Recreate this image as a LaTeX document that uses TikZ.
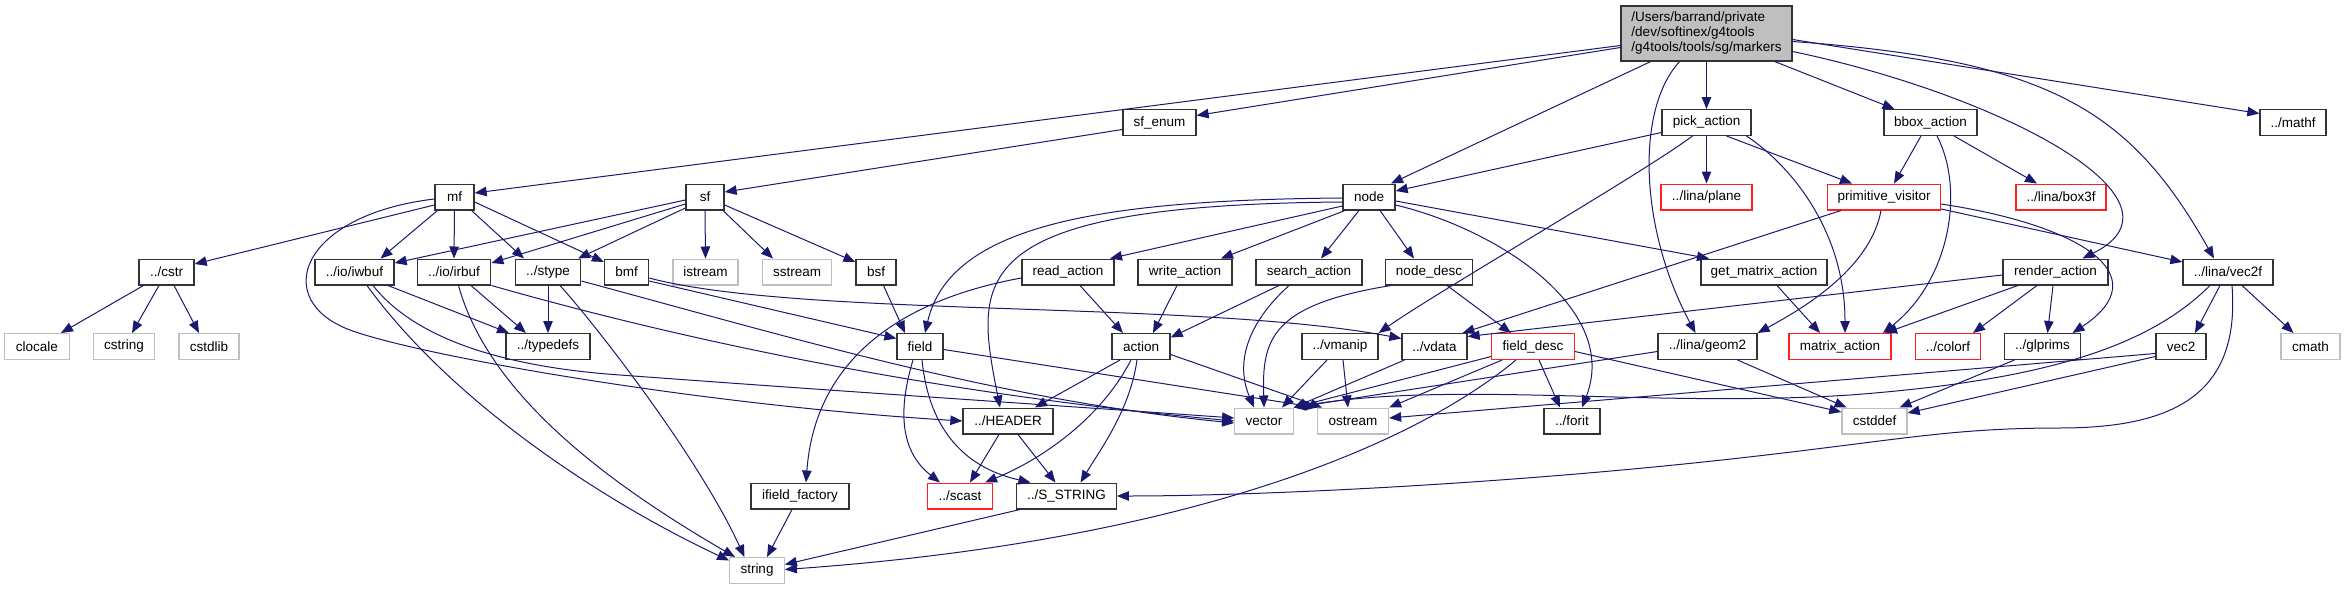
\documentclass[tikz,border=0pt]{standalone}
\usepackage{fontspec}
\setmainfont{Liberation Sans}
\usetikzlibrary{arrows.meta,calc}
\definecolor{edgec}{HTML}{191970}
\definecolor{sysgray}{HTML}{BFBFBF}
\definecolor{boxline}{HTML}{333333}
\definecolor{redline}{HTML}{FF2020}
\begin{document}
\begin{tikzpicture}[x=1pt,y=-1pt,
  font=\fontsize{13.5}{15}\selectfont,
  box/.style={draw=boxline, line width=1.3pt, minimum height=25.7pt, inner sep=0pt, anchor=center},
  sysbox/.style={box, draw=sysgray},
  redbox/.style={box, draw=redline},
  edge/.style={draw=edgec, line width=1pt, -{Triangle[length=12pt,width=9.5pt]}}
]
\useasboundingbox (0,0) rectangle (2345,589);

% ---------- nodes ----------
\node[box, fill=sysgray, minimum width=171pt, minimum height=55pt, align=left] (main) at (1706.5,33.5)
  {/Users/barrand/private\\/dev/softinex/g4tools\\/g4tools/tools/sg/markers};
% row 1
\node[box, minimum width=73pt] (sfenum) at (1159.5,122.5) {sf\_enum};
\node[box, minimum width=89pt] (pick) at (1706.5,122.5) {pick\_action};
\node[box, minimum width=93pt] (bbox) at (1930.5,122.5) {bbox\_action};
\node[box, minimum width=66pt] (mathf) at (2293,122.5) {../mathf};
% row 2
\node[box, minimum width=39pt] (mf) at (454.5,197) {mf};
\node[box, minimum width=38pt] (sf) at (705,197) {sf};
\node[box, minimum width=52pt] (nodeh) at (1369,197) {node};
\node[redbox, minimum width=91pt] (plane) at (1706.5,197) {../lina/plane};
\node[redbox, minimum width=113pt] (pv) at (1884,197) {primitive\_visitor};
\node[redbox, minimum width=90pt] (box3f) at (2061,197) {../lina/box3f};
% row 3
\node[box, minimum width=55pt] (cstr) at (166.5,272) {../cstr};
\node[box, minimum width=79pt] (iwbuf) at (354.5,272) {../io/iwbuf};
\node[box, minimum width=73.5pt] (irbuf) at (454,272) {../io/irbuf};
\node[box, minimum width=65.5pt] (stype) at (548,272) {../stype};
\node[box, minimum width=44pt] (bmf) at (626.5,272) {bmf};
\node[sysbox, minimum width=65pt] (istream) at (705.5,272) {istream};
\node[sysbox, minimum width=69.5pt] (sstream) at (797,272) {sstream};
\node[box, minimum width=40pt] (bsf) at (876,272) {bsf};
\node[box, minimum width=92pt] (readact) at (1068,272) {read\_action};
\node[box, minimum width=94pt] (writeact) at (1185,272) {write\_action};
\node[box, minimum width=106pt] (searchact) at (1309,272) {search\_action};
\node[box, minimum width=86.5pt] (nodedesc) at (1429,272) {node\_desc};
\node[box, minimum width=126pt] (gma) at (1764,272) {get\_matrix\_action};
\node[box, minimum width=105pt] (render) at (2055.5,272) {render\_action};
\node[box, minimum width=90pt] (vec2f) at (2228,272) {../lina/vec2f};
% row 4
\node[sysbox, minimum width=65pt] (clocale) at (37,346.5) {clocale};
\node[sysbox, minimum width=61.5pt] (cstring) at (124,346.5) {cstring};
\node[sysbox, minimum width=60pt] (cstdlib) at (209,346.5) {cstdlib};
\node[box, minimum width=84pt] (typedefs) at (548,346.5) {../typedefs};
\node[box, minimum width=46pt] (field) at (920,346.5) {field};
\node[box, minimum width=58pt] (action) at (1141,346.5) {action};
\node[box, minimum width=76pt] (vmanip) at (1340,346.5) {../vmanip};
\node[box, minimum width=65pt] (vdata) at (1434.5,346.5) {../vdata};
\node[redbox, minimum width=82.5pt] (fielddesc) at (1533,346.5) {field\_desc};
\node[box, minimum width=99pt] (geom2) at (1707.5,346.5) {../lina/geom2};
\node[redbox, minimum width=102pt] (matrix) at (1840,346.5) {matrix\_action};
\node[redbox, minimum width=65.5pt] (colorf) at (1948,346.5) {../colorf};
\node[box, minimum width=75.5pt] (glprims) at (2042.5,346.5) {../glprims};
\node[box, minimum width=50pt] (vec2) at (2181,346.5) {vec2};
\node[sysbox, minimum width=59pt] (cmath) at (2310.5,346.5) {cmath};
% row 5
\node[box, minimum width=90pt] (header) at (1008,421) {../HEADER};
\node[sysbox, minimum width=58.5pt] (vector) at (1264,421) {vector};
\node[sysbox, minimum width=71pt] (ostream) at (1353,421) {ostream};
\node[box, minimum width=56pt] (forit) at (1572,421) {../forit};
\node[sysbox, minimum width=65pt] (cstddef) at (1874.5,421) {cstddef};
% row 6
\node[box, minimum width=98pt] (ifield) at (800,496) {ifield\_factory};
\node[redbox, minimum width=64.5pt] (scast) at (960,496) {../scast};
\node[box, minimum width=99.5pt] (sstring) at (1066.5,496) {../S\_STRING};
% row 7
\node[sysbox, minimum width=54.5pt] (string) at (757,570.5) {string};

% ---------- edges ----------
% main
\draw[edge] ($(main.west)+(0,12)$) -- ($(mf.east)+(0,-4)$);
\draw[edge] ($(main.west)+(0,14)$) -- ($(sfenum.east)+(0,-7)$);
\draw[edge] ($(main.south)+(-56,0)$) -- ($(nodeh.north)+(22,0)$);
\draw[edge] (main.south) -- (pick.north);
\draw[edge] ($(main.south)+(-27,0)$) .. controls (1635,110) and (1640,230) .. ($(geom2.north)+(-12,0)$);
\draw[edge] ($(main.south)+(68.5,0)$) -- ($(bbox.north)+(-36,0)$);
\draw[edge] ($(main.east)+(0,18)$) .. controls (2000,95) and (2200,200) .. ($(render.north)+(27,0)$);
\draw[edge] ($(main.east)+(0,8)$) .. controls (2050,60) and (2130,110) .. ($(vec2f.north)+(-14,0)$);
\draw[edge] ($(main.east)+(0,6)$) -- ($(mathf.west)+(0,-9)$);
% sf_enum
\draw[edge] ($(sfenum.west)+(0,7)$) -- ($(sf.east)+(0,-5)$);
% pick_action
\draw[edge] ($(pick.west)+(0,10)$) -- ($(nodeh.east)+(0,-6)$);
\draw[edge] (pick.south) -- (plane.north);
\draw[edge] ($(pick.south)+(20,0)$) -- ($(pv.north)+(-32,0)$);
\draw[edge] ($(pick.south)+(40,0)$) .. controls (1790,165) and (1845,230) .. ($(matrix.north)+(5,0)$);
\draw[edge] ($(pick.south)+(-14,0)$) .. controls (1640,175) and (1440,290) .. (vmanip.north east);
% bbox_action
\draw[edge] ($(bbox.south)+(-9.5,0)$) -- ($(pv.north)+(10,0)$);
\draw[edge] ($(bbox.south)+(23.5,0)$) -- ($(box3f.north)+(-24,0)$);
\draw[edge] ($(bbox.south)+(6.5,0)$) .. controls (1965,190) and (1950,280) .. ($(matrix.north)+(43,0)$);
% primitive_visitor
\draw[edge] ($(pv.south)+(-43,0)$) -- ($(vdata.north)+(28,0)$);
\draw[edge] ($(pv.south)+(-3,0)$) .. controls (1870,270) and (1800,310) .. (geom2.north east);
\draw[edge] ($(pv.east)+(0,7)$) .. controls (2080,225) and (2160,275) .. ($(glprims.north)+(30,0)$);
\draw[edge] ($(pv.east)+(0,12)$) -- ($(vec2f.west)+(0,-10)$);
% render_action
\draw[edge] ($(render.west)+(0,3)$) -- ($(vdata.east)+(0,-10)$);
\draw[edge] ($(render.south)+(-37.5,0)$) -- ($(matrix.north)+(45,0)$);
\draw[edge] ($(render.south)+(-18.5,0)$) -- ($(colorf.north)+(25,0)$);
\draw[edge] ($(render.south)+(-2.5,0)$) -- ($(glprims.north)+(5,0)$);
% vec2f
\draw[edge] ($(vec2f.south)+(-8,0)$) -- ($(vec2.north)+(14,0)$);
\draw[edge] ($(vec2f.south)+(14,0)$) -- ($(cmath.north)+(-17,0)$);
\draw[edge] ($(vec2f.south)+(-18,0)$) .. controls (2150,345) and (2050,380) .. (1850,395)
  .. controls (1650,408) and (1450,380) .. (vector.north east);
\draw[edge] ($(vec2f.south)+(4,0)$) .. controls (2240,390) and (2180,428) .. (2060,428)
  .. controls (1950,428) and (1900,440) .. (1740,458)
  .. controls (1500,485) and (1250,496) .. (sstring.east);
% vec2
\draw[edge] ($(vec2.west)+(0,7)$) -- ($(ostream.east)+(0,-3)$);
\draw[edge] ($(vec2.west)+(0,10)$) -- ($(cstddef.east)+(0,-8)$);
% glprims
\draw[edge] ($(glprims.south)+(-28,0)$) -- ($(cstddef.north)+(25,0)$);
% geom2
\draw[edge] ($(geom2.south)+(30,0)$) -- ($(cstddef.north)+(-28,0)$);
\draw[edge] ($(geom2.west)+(0,5)$) -- (vector.north east);
% field_desc
\draw[edge] ($(fielddesc.west)+(0,10)$) -- (vector.north east);
\draw[edge] ($(fielddesc.south)+(-31,0)$) -- (ostream.north east);
\draw[edge] ($(fielddesc.south)+(6,0)$) -- ($(forit.north)+(-12,0)$);
\draw[edge] ($(fielddesc.south)+(-17,0)$) .. controls (1420,440) and (1200,540) .. ($(string.east)+(0,-1)$);
\draw[edge] ($(fielddesc.east)+(0,5)$) -- ($(cstddef.west)+(0,-9)$);
% node
\draw[edge] ($(nodeh.west)+(0,1)$) .. controls (1100,200) and (950,225) .. ($(field.north)+(5,0)$);
\draw[edge] ($(nodeh.west)+(0,5)$) .. controls (960,205) and (975,280) .. ($(header.north)+(-8,0)$);
\draw[edge] ($(nodeh.west)+(0,9)$) -- ($(readact.north)+(42,0)$);
\draw[edge] ($(nodeh.south)+(-24,0)$) -- ($(writeact.north)+(36,0)$);
\draw[edge] ($(nodeh.south)+(-10,0)$) -- ($(searchact.north)+(12,0)$);
\draw[edge] ($(nodeh.south)+(11,0)$) -- ($(nodedesc.north)+(-15,0)$);
\draw[edge] ($(nodeh.east)+(0,4)$) -- ($(gma.north)+(-55,0)$);
\draw[edge] ($(nodeh.east)+(0,8)$) .. controls (1500,230) and (1620,310) .. ($(forit.north)+(10,0)$);
% read_action
\draw[edge] ($(readact.south)+(12,0)$) -- ($(action.north)+(-18,0)$);
\draw[edge] ($(readact.west)+(0,6)$) .. controls (900,300) and (815,360) .. ($(ifield.north)+(6,0)$);
% write_action
\draw[edge] ($(writeact.south)+(-8,0)$) -- ($(action.north)+(12,0)$);
% search_action
\draw[edge] ($(searchact.south)+(-30,0)$) -- ($(action.east)+(0,-9)$);
\draw[edge] ($(searchact.south)+(-20,0)$) .. controls (1240,330) and (1238,370) .. ($(vector.north)+(-10,0)$);
% node_desc
\draw[edge] ($(nodedesc.south)+(18,0)$) -- ($(fielddesc.north)+(-22,0)$);
\draw[edge] ($(nodedesc.south)+(-38,0)$) .. controls (1270,305) and (1262,340) .. (vector.north);
% get_matrix_action
\draw[edge] ($(gma.south)+(13,0)$) -- ($(matrix.north)+(-20,0)$);
% vmanip, vdata
\draw[edge] ($(vmanip.south)+(-13,0)$) -- ($(vector.north)+(18,0)$);
\draw[edge] ($(vmanip.south)+(3,0)$) -- ($(ostream.north)+(-5,0)$);
\draw[edge] ($(vdata.south)+(-30,0)$) -- (vector.north east);
% field
\draw[edge] ($(field.south)+(-7,0)$) .. controls (895,420) and (905,455) .. ($(scast.north)+(-20,0)$);
\draw[edge] ($(field.south)+(2,0)$) .. controls (930,440) and (975,470) .. ($(sstring.north)+(-36,0)$);
\draw[edge] ($(field.east)+(0,3)$) -- (ostream.north west);
% action
\draw[edge] ($(action.south)+(-21,0)$) -- ($(header.north)+(27,0)$);
\draw[edge] ($(action.south)+(-10,0)$) .. controls (1100,420) and (1040,460) .. ($(scast.north)+(25,0)$);
\draw[edge] ($(action.south)+(-4,0)$) .. controls (1130,410) and (1100,450) .. ($(sstring.north)+(14,0)$);
\draw[edge] ($(action.east)+(0,8)$) -- ($(ostream.north)+(-31,0)$);
% HEADER
\draw[edge] ($(header.south)+(-9,0)$) -- ($(scast.north)+(10,0)$);
\draw[edge] ($(header.south)+(10,0)$) -- ($(sstring.north)+(-11,0)$);
% S_STRING, ifield_factory
\draw[edge] ($(sstring.south)+(-46.5,0)$) -- ($(string.east)+(0,-6)$);
\draw[edge] ($(ifield.south)+(-8,0)$) -- ($(string.north)+(10,0)$);
% bsf, bmf
\draw[edge] ($(bsf.south)+(7.5,0)$) -- ($(field.north)+(-15,0)$);
\draw[edge] ($(bmf.east)+(0,9)$) -- ($(field.west)+(0,-8)$);
\draw[edge] ($(bmf.east)+(0,6)$) .. controls (800,318) and (1200,300) .. ($(vdata.west)+(0,-8)$);
% sf
\draw[edge] ($(sf.west)+(0,3)$) -- ($(iwbuf.east)+(0,-9)$);
\draw[edge] ($(sf.west)+(0,7)$) -- ($(irbuf.east)+(0,-9)$);
\draw[edge] ($(sf.west)+(0,11)$) -- ($(stype.north)+(30,0)$);
\draw[edge] (sf.south) -- (istream.north);
\draw[edge] ($(sf.south)+(18,0)$) -- ($(sstream.north)+(-24,0)$);
\draw[edge] ($(sf.east)+(0,8)$) -- ($(bsf.west)+(0,-10)$);
% mf
\draw[edge] ($(mf.west)+(0,8)$) -- ($(cstr.east)+(0,-8)$);
\draw[edge] ($(mf.south)+(-17,0)$) -- ($(iwbuf.north)+(26,0)$);
\draw[edge] (mf.south) -- (irbuf.north);
\draw[edge] ($(mf.south)+(17,0)$) -- ($(stype.north)+(-24,0)$);
\draw[edge] ($(mf.east)+(0,5)$) -- ($(bmf.west)+(0,-10)$);
\draw[edge] ($(mf.west)+(0,2)$) .. controls (300,215) and (270,300) .. (350,330)
  .. controls (420,356) and (700,405) .. (header.west);
% cstr
\draw[edge] ($(cstr.south)+(-23,0)$) -- ($(clocale.north)+(24,0)$);
\draw[edge] ($(cstr.south)+(-7.5,0)$) -- ($(cstring.north)+(8,0)$);
\draw[edge] ($(cstr.south)+(7.5,0)$) -- ($(cstdlib.north)+(-10,0)$);
% iwbuf
\draw[edge] ($(iwbuf.south)+(33.5,0)$) -- ($(typedefs.north)+(-39,0)$);
\draw[edge] ($(iwbuf.south)+(12.5,0)$) .. controls (450,400) and (600,500) .. ($(string.west)+(0,-10)$);
\draw[edge] ($(iwbuf.south)+(18.5,0)$) .. controls (420,345) and (520,368) .. (620,375)
  .. controls (850,392) and (1050,405) .. ($(vector.west)+(0,-3)$);
% irbuf
\draw[edge] ($(irbuf.south)+(17,0)$) -- ($(typedefs.north)+(-22,0)$);
\draw[edge] ($(irbuf.south)+(4.5,0)$) .. controls (490,400) and (620,490) .. ($(string.north)+(-22,0)$);
\draw[edge] (irbuf.south east) .. controls (700,345) and (950,395) .. (vector.west);
% stype
\draw[edge] (stype.south) -- (typedefs.north);
\draw[edge] ($(stype.south)+(12,0)$) .. controls (600,330) and (700,460) .. ($(string.north)+(-12.5,0)$);
\draw[edge] ($(stype.east)+(0,9)$) .. controls (800,340) and (1000,400) .. ($(vector.west)+(0,2)$);
\end{tikzpicture}
\end{document}
